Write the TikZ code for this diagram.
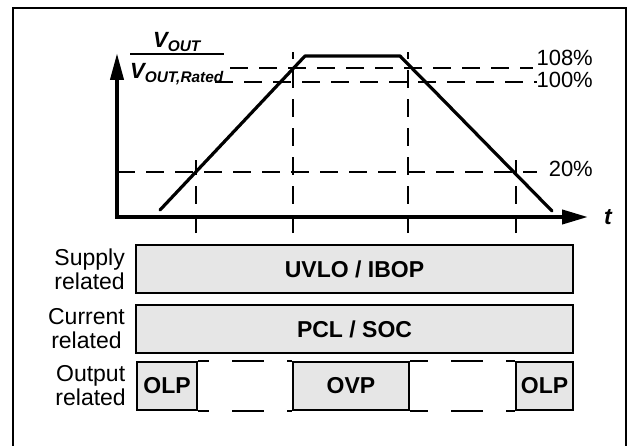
\documentclass[tikz,border=0pt]{standalone}
\usepackage{fontspec}
\setmainfont{Liberation Sans}
\usetikzlibrary{arrows.meta, positioning, calc}
\definecolor{barfill}{RGB}{230,230,230}
\tikzset{
    % Plot lines
    axisline/.style={line width=4pt, {Triangle[length=27pt, width=13pt]}-{Triangle[length=26pt, width=14pt]}},
    traceline/.style={line width=3.2pt, line join=round, line cap=round},
    guideline/.style={line width=2pt, dash pattern=on 18pt off 11pt},
    % Protection bars
    protbar/.style={rectangle, draw, line width=2pt, fill=barfill, inner sep=0pt,
        minimum height=48pt, font=\fontsize{23}{24}\selectfont\bfseries},
    gapline/.style={line width=2pt, dash pattern=on 32pt off 23pt},
    % Labels
    rowlabel/.style={align=center, inner sep=2pt, font=\fontsize{23}{24}\selectfont},
    pctlabel/.style={anchor=base east, inner sep=0pt, font=\fontsize{22}{24}\selectfont},
}

\begin{document}
\begin{tikzpicture}[x=1pt, y=-1pt]

\useasboundingbox (0,0) rectangle (636,446);
\draw[line width=2.5pt] (13,8) rectangle (626,470);

% ============================================================
% Output voltage plot
% ============================================================
\coordinate (origin) at (117,217);
\coordinate (ytip) at (117,53);
\coordinate (xtip) at (588,217);

% Guide lines
\foreach \x/\ytop in {196/160, 293/52, 408/52, 516/160}
    \draw[guideline] (\x,233) -- (\x,\ytop);
\draw[guideline] (230,68) -- (533,68);
\draw[guideline] (215,82) -- (537,82);
\draw[guideline] (origin |- 0,172) -- (537,172);

\node[pctlabel] (p108) at (593,66) {108\%};
\node[pctlabel] (p100) at (593,88) {100\%};
\node[pctlabel] (p20) at (593,177) {20\%};

% Axes
\draw[axisline] (ytip) -- (origin) -- (xtip);
\node[anchor=base west, inner sep=0pt, font=\fontsize{23}{24}\selectfont\bfseries\itshape] (tlabel) at (604,225) {t};
\node[anchor=north, inner sep=0pt, font=\fontsize{22}{24}\selectfont\bfseries\itshape] (ylabel) at (177,31)
    {\setlength{\arrayrulewidth}{2pt}\begin{tabular}{@{}c@{}}V\textsubscript{OUT}\\[-2pt]\hline\rule{0pt}{23pt}V\textsubscript{OUT,Rated}\end{tabular}};

% Voltage trace
\draw[traceline] (160,210) -- (305,56) -- (400,56) -- (552,211);

% ============================================================
% Protection bars
% ============================================================
\node[protbar, minimum width=437pt] (supplybar) at (354.5,269) {UVLO / IBOP};
\node[protbar, minimum width=437pt, below=10pt of supplybar] (currentbar) {PCL / SOC};

\node[protbar, minimum width=60pt] (olpleft) at (167,385.5) {OLP};
\node[protbar, minimum width=116pt] (ovpbox) at (351,385.5) {OVP};
\node[protbar, minimum width=57pt] (olpright) at (544.5,385.5) {OLP};

\draw[gapline, dash phase=21pt] (olpleft.north east) -- (ovpbox.north west);
\draw[gapline, dash phase=21pt] (olpleft.south east) -- (ovpbox.south west);
\draw[gapline, dash phase=14pt] (ovpbox.north east) -- (olpright.north west);
\draw[gapline, dash phase=14pt] (ovpbox.south east) -- (olpright.south west);

% Row labels
\node[rowlabel, left=8pt of supplybar] (supplylabel) {Supply\\related};
\node[rowlabel, left=8pt of currentbar] (currentlabel) {Current\\related};
\node[rowlabel, left=8pt of olpleft] (outputlabel) {Output\\related};

\end{tikzpicture}
\end{document}
